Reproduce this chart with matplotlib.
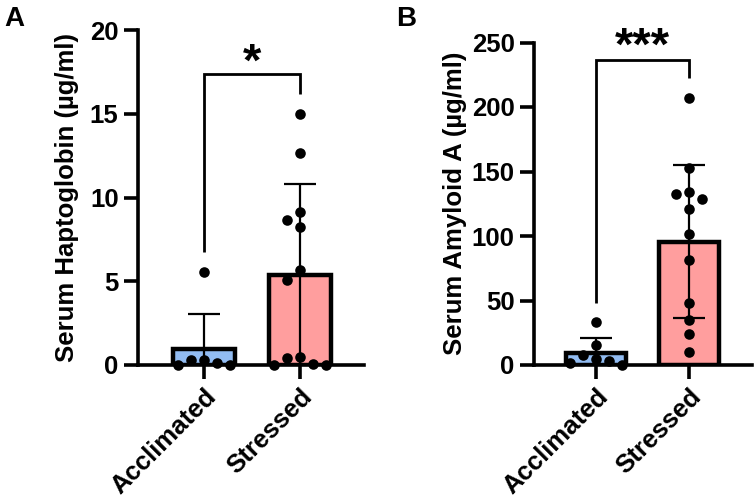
import numpy as np
import matplotlib
matplotlib.use("Agg")
import matplotlib.pyplot as plt

plt.rcParams['font.family'] = ['Liberation Sans', 'DejaVu Sans']
plt.rcParams['font.weight'] = 'bold'

groups = ["Acclimated", "Stressed"]

hp_accl = [0.0, 0.3, 0.1, 0.3, 0.0, 5.57]
hp_stress = [14.97, 12.67, 9.15, 8.66, 8.22, 5.67, 5.07, 0.5, 0.4, 0.0, 0.05, 0.0]
hp_mean = [0.94, 5.37]
hp_sd = [2.09, 5.42]

saa_accl = [33.1, 15.5, 7.75, 4.4, 3.1, 1.8, 0.3]
saa_stress = [207.2, 152.5, 132.6, 134.3, 128.4, 120.7, 101.6, 81.4, 48.3, 34.9, 23.8, 9.8]
saa_mean = [9.1, 95.6]
saa_sd = [12.1, 59.5]

hp_ticks = [0, 5, 10, 15, 20]
saa_ticks = [0, 50, 100, 150, 200, 250]

BLUE = '#92BCF2'
PINK = '#FF9E9E'

fig = plt.figure(figsize=(7.56, 5.04), dpi=100)
W, H = 756, 504


def axes_px(l, r, t, b):
    return fig.add_axes([l / W, (H - b) / H, (r - l) / W, (b - t) / H])


def swarm(ax, xc, vals, step_px=13.0, min_px=11.0):
    vals = np.asarray(vals, float)
    order = np.argsort(-vals, kind='stable')
    placed = []
    offs = np.zeros(len(vals))
    for i in order:
        py = ax.transData.transform((xc, vals[i]))[1]
        for k in [0, -1, 1, -2, 2, -3, 3, -4, 4]:
            px = k * step_px
            if all((px - qx) ** 2 + (py - qy) ** 2 >= min_px ** 2 for qx, qy in placed):
                break
        placed.append((px, py))
        offs[i] = px
    x0 = ax.transData.transform((0, 0))[0]
    x1 = ax.transData.transform((1, 0))[0]
    return xc + offs / (x1 - x0)


def panel(ax, data, means, sds, ticks, ylabel, xlim, width, bracket, stars, star_y, labelpad):
    ax.set_xlim(*xlim)
    ax.set_ylim(ticks[0], ticks[-1])
    x = np.arange(len(groups))
    ax.bar(x, means, width=width, color=[BLUE, PINK], edgecolor='black',
           linewidth=3.2, zorder=2)
    ax.errorbar(x, means, yerr=sds, fmt='none', ecolor='black', elinewidth=1.6,
                capsize=11.5, capthick=1.6, zorder=3)
    for xi, vals in zip(x, data):
        xs = swarm(ax, xi, vals)
        ax.scatter(xs, vals, s=58, color='black', zorder=4, clip_on=False, linewidths=0)
    for s in ['top', 'right']:
        ax.spines[s].set_visible(False)
    for s in ['left', 'bottom']:
        ax.spines[s].set_linewidth(2.6)
        ax.spines[s].set_zorder(5)
    ax.set_yticks(ticks)
    ax.set_xticks(x)
    ax.set_xticklabels(groups, rotation=45, ha='right', rotation_mode='anchor',
                       fontsize=18.5, fontweight='bold')
    ax.tick_params(axis='both', length=10, width=2.6, labelsize=18.5, pad=4)
    for lab in ax.get_yticklabels():
        lab.set_fontweight('bold')
    ax.set_ylabel(ylabel, fontsize=18.5, fontweight='bold', labelpad=labelpad)
    top, lb, rb = bracket
    ax.plot([0, 0, 1, 1], [lb, top, top, rb], color='black', lw=2.0,
            clip_on=False, zorder=6, solid_capstyle='butt', solid_joinstyle='miter')
    ax.text(0.5, star_y, stars, ha='center', va='center', fontsize=34,
            fontweight='bold', clip_on=False)


axA = axes_px(138, 364, 30, 365)
panel(axA, [hp_accl, hp_stress], hp_mean, hp_sd, hp_ticks,
      'Serum Haptoglobin (µg/ml)', (-0.69, 1.67), 0.65,
      (17.4, 6.76, 16.2), '*', 18.0, 8)

axB = axes_px(534, 752, 42.5, 365)
panel(axB, [saa_accl, saa_stress], saa_mean, saa_sd, saa_ticks,
      'Serum Amyloid A (µg/ml)', (-0.67, 1.68), 0.645,
      (236.4, 48.3, 222.5), '***', 246, 3)

fig.text(14 / W, 1 - 19 / H, 'A', ha='center', va='center', fontsize=20, fontweight='bold')
fig.text(406 / W, 1 - 19 / H, 'B', ha='center', va='center', fontsize=20, fontweight='bold')

fig.savefig('out.png', dpi=100)
